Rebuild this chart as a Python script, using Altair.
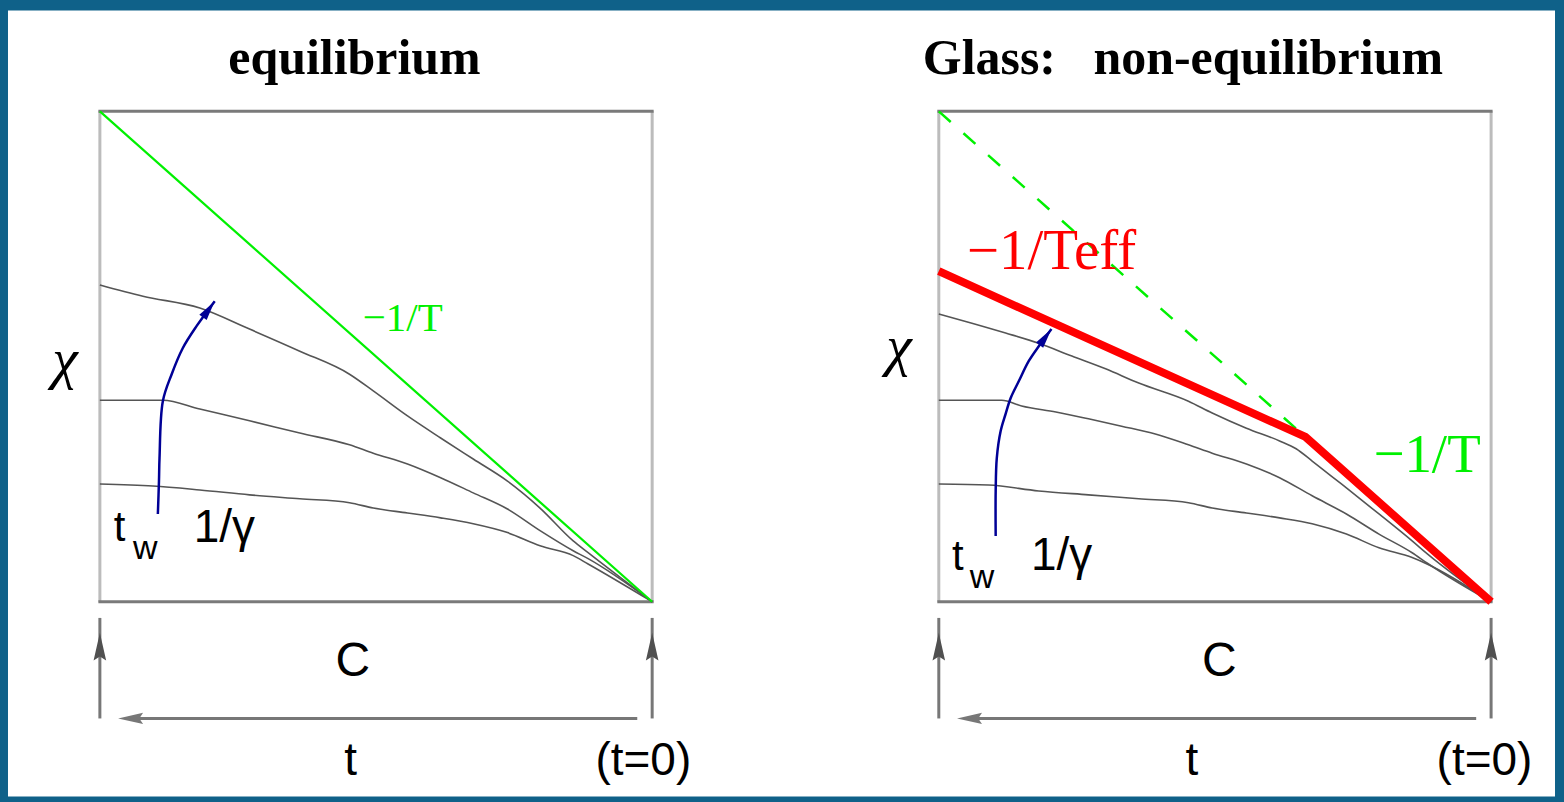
import math
import altair as alt
import pandas as pd

# Plot-area size of each panel (pixels) and the gap between the two panels
PANEL_W, PANEL_H = 553, 491
GAP = 287

SERIF = "Liberation Serif"
SANS = "Liberation Sans"
GREEN = "#00f000"
RED = "#ff0000"
NAVY = "#000096"
CURVE_GREY = "#555555"
EDGE_DARK = "#7a7a7a"
EDGE_LIGHT = "#bcbcbc"
ARROW_GREY = "#777777"
HEAD_GREY = "#505050"
BORDER_BLUE = "#0f6189"

# ---------------- equilibrium panel: chi(C) for three waiting times ----------------
eq_top_c = [0.0, 0.078, 0.181, 0.271, 0.362, 0.452, 0.495, 0.557, 0.617, 0.676, 0.738, 0.797, 0.857, 0.884, 1.0]
eq_top_chi = [0.646, 0.623, 0.599, 0.556, 0.511, 0.464, 0.430, 0.379, 0.334, 0.291, 0.246, 0.191, 0.124, 0.100, 0.0]
eq_mid_c = [0.0, 0.114, 0.181, 0.271, 0.362, 0.452, 0.495, 0.557, 0.617, 0.676, 0.738, 0.797, 0.857, 0.884, 1.0]
eq_mid_chi = [0.411, 0.411, 0.393, 0.369, 0.344, 0.320, 0.303, 0.281, 0.253, 0.222, 0.189, 0.145, 0.104, 0.088, 0.0]
eq_low_c = [0.0, 0.096, 0.181, 0.271, 0.362, 0.452, 0.495, 0.557, 0.617, 0.676, 0.738, 0.797, 0.857, 0.884, 1.0]
eq_low_chi = [0.240, 0.236, 0.228, 0.218, 0.210, 0.202, 0.191, 0.181, 0.171, 0.159, 0.141, 0.114, 0.094, 0.077, 0.0]
# FDT line of slope -1/T
eq_fdt_c = [0.0, 1.0]
eq_fdt_chi = [1.0, 0.0]
# increasing waiting time arrow
eq_arrow_c = [0.105, 0.107, 0.108, 0.114, 0.130, 0.150, 0.175, 0.208]
eq_arrow_chi = [0.179, 0.246, 0.293, 0.409, 0.464, 0.517, 0.562, 0.613]

# ---------------- glass panel ----------------
gl_top_c = [0.0, 0.060, 0.121, 0.181, 0.241, 0.302, 0.362, 0.452, 0.495, 0.557, 0.617, 0.647, 0.676, 0.738, 0.797, 0.857, 0.884, 1.0]
gl_top_chi = [0.587, 0.568, 0.548, 0.527, 0.501, 0.475, 0.446, 0.409, 0.385, 0.354, 0.328, 0.312, 0.287, 0.232, 0.179, 0.124, 0.098, 0.0]
gl_mid_c = [0.0, 0.114, 0.150, 0.212, 0.271, 0.331, 0.392, 0.452, 0.495, 0.557, 0.617, 0.676, 0.738, 0.797, 0.857, 0.884, 1.0]
gl_mid_chi = [0.411, 0.411, 0.399, 0.387, 0.373, 0.358, 0.342, 0.320, 0.303, 0.281, 0.253, 0.216, 0.179, 0.138, 0.100, 0.079, 0.0]
gl_low_c = [0.0, 0.090, 0.181, 0.271, 0.362, 0.452, 0.495, 0.557, 0.617, 0.676, 0.738, 0.797, 0.857, 0.884, 1.0]
gl_low_chi = [0.240, 0.238, 0.226, 0.218, 0.210, 0.202, 0.191, 0.181, 0.171, 0.159, 0.138, 0.110, 0.090, 0.077, 0.0]
# two-slope asymptote: -1/Teff then -1/T
gl_teff_c = [0.0, 0.664, 1.0]
gl_teff_chi = [0.674, 0.336, 0.0]
# continuation of the -1/T line (dashed)
gl_fdt_c = [0.0, 0.664]
gl_fdt_chi = [1.0, 0.336]
gl_arrow_c = [0.103, 0.103, 0.105, 0.112, 0.121, 0.130, 0.145, 0.163, 0.181, 0.204]
gl_arrow_chi = [0.134, 0.226, 0.293, 0.348, 0.383, 0.415, 0.450, 0.491, 0.521, 0.556]

# Time-axis arrows under each box (C and chi units of the panel)
arrow_base_chi = -0.238
arrow_tip_chi = -0.063
t_arrow_from_c = 0.973
t_arrow_to_c = 0.033

XS = alt.Scale(domain=[0, 1], nice=False, zero=False)
YS = alt.Scale(domain=[0, 1], nice=False, zero=False)


def xenc(field="C"):
    return alt.X(f"{field}:Q", scale=XS, axis=None)


def yenc(field="chi"):
    return alt.Y(f"{field}:Q", scale=YS, axis=None)


def path_frame(groups):
    rows = []
    for name, cs, chis in groups:
        for i, (c, chi) in enumerate(zip(cs, chis)):
            rows.append({"curve": name, "i": i, "C": c, "chi": chi})
    return pd.DataFrame(rows)


def line_layer(df, color, width, dash=None, interp="linear"):
    kw = dict(color=color, strokeWidth=width, clip=False, interpolate=interp)
    if dash:
        kw["strokeDash"] = dash
    return alt.Chart(df).mark_line(**kw).encode(
        x=xenc(), y=yenc(), detail="curve:N", order="i:Q"
    )


def head_angle(cs, chis):
    # direction of the last segment in screen space, clockwise from "up"
    dx = (cs[-1] - cs[-2]) * PANEL_W
    dy = (chis[-1] - chis[-2]) * PANEL_H
    return math.degrees(math.atan2(dx, dy)) % 360


HEAD = "M0,0L0.45,2L-0.45,2Z"
GREY_HEAD = "M0,0L0.45,2L0,1.7L-0.45,2Z"


def head_layer(c, chi, angle, color, size, shape):
    return alt.Chart(alt.Data(values=[{"C": c, "chi": chi}])).mark_point(
        shape=shape, filled=True, color=color, opacity=1, size=size,
        angle=angle, strokeWidth=0, clip=False
    ).encode(x=xenc(), y=yenc())


def text_layer(lbl):
    return alt.Chart(alt.Data(values=[{"C": lbl["C"], "chi": lbl["chi"], "s": lbl["text"]}])).mark_text(
        font=lbl["font"], fontSize=lbl["size"], fontWeight=lbl.get("weight", "normal"),
        fontStyle=lbl.get("style", "normal"),
        color=lbl.get("color", "#000000"), align=lbl.get("align", "left"),
        baseline="alphabetic", clip=False
    ).encode(x=xenc(), y=yenc(), text="s:N")


def box_layers():
    horiz = alt.Chart(alt.Data(values=[{"c0": 0, "c1": 1, "chi": 0}, {"c0": 0, "c1": 1, "chi": 1}])).mark_rule(
        color=EDGE_DARK, strokeWidth=3, strokeCap="square"
    ).encode(x=xenc("c0"), x2="c1:Q", y=yenc())
    vert = alt.Chart(alt.Data(values=[{"C": 0, "k0": 0, "k1": 1}, {"C": 1, "k0": 0, "k1": 1}])).mark_rule(
        color=EDGE_LIGHT, strokeWidth=3
    ).encode(x=xenc(), y=yenc("k0"), y2="k1:Q")
    return [vert, horiz]


def time_axis_layers():
    uprights = alt.Chart(alt.Data(values=[
        {"C": 0, "a": arrow_base_chi, "b": arrow_tip_chi + 0.03},
        {"C": 1, "a": arrow_base_chi, "b": arrow_tip_chi + 0.03},
    ])).mark_rule(color=ARROW_GREY, strokeWidth=3, clip=False).encode(
        x=xenc(), y=yenc("a"), y2="b:Q")
    t_line = alt.Chart(alt.Data(values=[
        {"c0": t_arrow_from_c, "c1": t_arrow_to_c + 0.02, "chi": arrow_base_chi}
    ])).mark_rule(color=ARROW_GREY, strokeWidth=3, clip=False).encode(
        x=xenc("c0"), x2="c1:Q", y=yenc())
    return [
        uprights, t_line,
        head_layer(0, arrow_tip_chi, 0, HEAD_GREY, 784, GREY_HEAD),
        head_layer(1, arrow_tip_chi, 0, HEAD_GREY, 784, GREY_HEAD),
        head_layer(t_arrow_to_c, arrow_base_chi, 270, ARROW_GREY, 625, GREY_HEAD),
    ]


# ---------------- labels ----------------
eq_labels = [
    dict(text="equilibrium", C=0.461, chi=1.077, font=SERIF, size=50, weight="bold", align="center"),
    dict(text="χ", C=-0.063, chi=0.457, font=SERIF, size=58, style="italic", align="center"),
    dict(text="−1/T", C=0.476, chi=0.552, font=SERIF, size=41, color=GREEN),
    dict(text="t", C=0.025, chi=0.124, font=SANS, size=42),
    dict(text="w", C=0.060, chi=0.088, font=SANS, size=34),
    dict(text="1/γ", C=0.170, chi=0.122, font=SANS, size=46),
    dict(text="C", C=0.458, chi=-0.151, font=SANS, size=48, align="center"),
    dict(text="t", C=0.454, chi=-0.354, font=SANS, size=46, align="center"),
    dict(text="(t=0)", C=0.984, chi=-0.354, font=SANS, size=46, align="center"),
]

gl_labels = [
    dict(text="Glass:\u00a0\u00a0\u00a0non-equilibrium", C=0.442, chi=1.077, font=SERIF, size=50, weight="bold", align="center"),
    dict(text="χ", C=-0.072, chi=0.483, font=SERIF, size=58, style="italic", align="center"),
    dict(text="−1/Teff", C=0.051, chi=0.678, font=SERIF, size=57, color=RED),
    dict(text="−1/T", C=0.787, chi=0.265, font=SERIF, size=55, color=GREEN),
    dict(text="t", C=0.024, chi=0.065, font=SANS, size=42),
    dict(text="w", C=0.056, chi=0.029, font=SANS, size=34),
    dict(text="1/γ", C=0.167, chi=0.065, font=SANS, size=46),
    dict(text="C", C=0.508, chi=-0.151, font=SANS, size=48, align="center"),
    dict(text="t", C=0.458, chi=-0.354, font=SANS, size=46, align="center"),
    dict(text="(t=0)", C=0.988, chi=-0.354, font=SANS, size=46, align="center"),
]

# White page inside the blue frame (drawn once, under everything)
page = alt.Chart(alt.Data(values=[{}])).mark_rect(color="#ffffff", clip=False).encode(
    x=alt.value(-92), x2=alt.value(1457), y=alt.value(-101), y2=alt.value(686)
)

eq_curves = path_frame([("tw1", eq_top_c, eq_top_chi), ("tw2", eq_mid_c, eq_mid_chi), ("tw3", eq_low_c, eq_low_chi)])
eq_panel = alt.layer(
    page,
    *box_layers(),
    line_layer(eq_curves, CURVE_GREY, 1.6, interp="monotone"),
    line_layer(path_frame([("fdt", eq_fdt_c, eq_fdt_chi)]), GREEN, 2.2),
    line_layer(path_frame([("tw", eq_arrow_c, eq_arrow_chi)]), NAVY, 2.5, interp="catmull-rom"),
    head_layer(eq_arrow_c[-1], eq_arrow_chi[-1], head_angle(eq_arrow_c, eq_arrow_chi), NAVY, 400, HEAD),
    *time_axis_layers(),
    *[text_layer(l) for l in eq_labels],
).properties(width=PANEL_W, height=PANEL_H)

gl_curves = path_frame([("tw1", gl_top_c, gl_top_chi), ("tw2", gl_mid_c, gl_mid_chi), ("tw3", gl_low_c, gl_low_chi)])
gl_panel = alt.layer(
    *box_layers(),
    line_layer(path_frame([("fdt", gl_fdt_c, gl_fdt_chi)]), GREEN, 2.5, dash=[16, 17]),
    line_layer(gl_curves, CURVE_GREY, 1.6, interp="monotone"),
    line_layer(path_frame([("teff", gl_teff_c, gl_teff_chi)]), RED, 8),
    line_layer(path_frame([("tw", gl_arrow_c, gl_arrow_chi)]), NAVY, 2.5, interp="catmull-rom"),
    head_layer(gl_arrow_c[-1], gl_arrow_chi[-1], head_angle(gl_arrow_c, gl_arrow_chi), NAVY, 400, HEAD),
    *time_axis_layers(),
    *[text_layer(l) for l in gl_labels],
).properties(width=PANEL_W, height=PANEL_H)

chart = alt.hconcat(eq_panel, gl_panel, spacing=GAP, bounds="flush").properties(
    padding={"left": 7, "top": 9, "right": 8, "bottom": 6},
    background=BORDER_BLUE,
).configure_view(stroke="transparent")

chart.save("out.html", embed_options={"renderer": "svg", "actions": False})
